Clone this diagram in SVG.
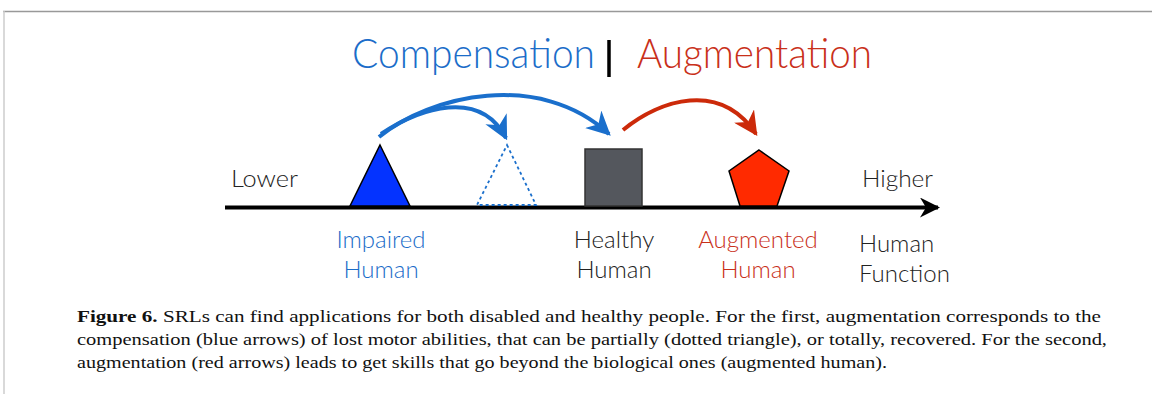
<svg xmlns="http://www.w3.org/2000/svg" width="1152" height="394" viewBox="0 0 1152 394">
<style>
.sans{font-family:"Lato","Open Sans","Liberation Sans",sans-serif;font-weight:300}
.lbl{font-size:24px}
.cap{font-family:"Liberation Serif","Times New Roman",serif;font-size:17.5px;fill:#111}
.blue{fill:#1B6DC9}
.red{fill:#C9301A}
.dark{fill:#222}
.barrow{fill:none;stroke:#1A6FCC;stroke-width:4;stroke-linecap:butt}
.rarrow{fill:none;stroke:#CC2A0A;stroke-width:4}
</style>
<defs>
<marker id="hbl" viewBox="0 0 10 10" refX="9" refY="5" markerWidth="24" markerHeight="24" markerUnits="userSpaceOnUse" orient="auto">
<path d="M0,0 L10,5 L0,10 L3,5 Z" fill="#1A6FCC"/>
</marker>
<marker id="hr" viewBox="0 0 10 10" refX="9" refY="5" markerWidth="24" markerHeight="24" markerUnits="userSpaceOnUse" orient="auto">
<path d="M0,0 L10,5 L0,10 L3,5 Z" fill="#CC2A0A"/>
</marker>
<marker id="hk" viewBox="0 0 10 10" refX="9" refY="5" markerWidth="20" markerHeight="20" markerUnits="userSpaceOnUse" orient="auto">
<path d="M0,0 L10,5 L0,10 L3,5 Z" fill="#000"/>
</marker>
</defs>
<rect width="1152" height="394" fill="#fff"/>
<line x1="3" y1="11.5" x2="1152" y2="11.5" stroke="#999" stroke-width="1.5"/>
<line x1="4" y1="11" x2="4" y2="394" stroke="#ccc" stroke-width="1.5"/>

<g id="title">
<text class="sans blue" x="352" y="68" font-size="42" textLength="243" lengthAdjust="spacingAndGlyphs">Compensation</text>
<line x1="609" y1="40" x2="609" y2="77" stroke="#000" stroke-width="3.5"/>
<text class="sans red" x="637" y="68" font-size="42" textLength="235" lengthAdjust="spacingAndGlyphs">Augmentation</text>
</g>

<g id="axis">
<line x1="225" y1="207.5" x2="938" y2="207.5" stroke="#000" stroke-width="4" marker-end="url(#hk)"/>
<text class="sans dark lbl" x="231" y="187" textLength="67" lengthAdjust="spacingAndGlyphs">Lower</text>
<text class="sans dark lbl" x="862" y="187" textLength="71" lengthAdjust="spacingAndGlyphs">Higher</text>
<text class="sans dark lbl" x="859" y="252">Human</text>
<text class="sans dark lbl" x="859" y="282">Function</text>
</g>

<g id="impaired">
<polygon points="380,145 410,206 350,206" fill="#0433FF" stroke="#000" stroke-width="1.5"/>
<text class="sans blue lbl" x="381" y="248" text-anchor="middle">Impaired</text>
<text class="sans blue lbl" x="381" y="278" text-anchor="middle">Human</text>
</g>

<g id="partial">
<polygon points="507,145 536,205 477,205" fill="none" stroke="#1A6FCC" stroke-width="1.8" stroke-dasharray="3,3"/>
</g>

<g id="healthy">
<rect x="585" y="149" width="57" height="57" fill="#54575D" stroke="#333" stroke-width="1.5"/>
<text class="sans dark lbl" x="614" y="248" text-anchor="middle">Healthy</text>
<text class="sans dark lbl" x="614" y="278" text-anchor="middle">Human</text>
</g>

<g id="augmented">
<polygon points="759,150 789,171 777,206 740,206 729,171" fill="#FF2A00" stroke="#000" stroke-width="1.5"/>
<text class="sans red lbl" x="758" y="248" text-anchor="middle">Augmented</text>
<text class="sans red lbl" x="758" y="278" text-anchor="middle">Human</text>
</g>

<g id="connectors">
<path class="barrow" d="M379,137 C430,95 540,70 609,134" marker-end="url(#hbl)"/>
<path class="barrow" d="M381,134 C420,108 480,88 506,138" marker-end="url(#hbl)"/>
<path class="rarrow" d="M623,130 C660,100 720,80 756,134" marker-end="url(#hr)"/>
</g>

<g id="caption">
<text class="cap" x="77" y="322" textLength="1024" lengthAdjust="spacingAndGlyphs"><tspan font-weight="bold">Figure 6.</tspan> SRLs can find applications for both disabled and healthy people. For the first, augmentation corresponds to the</text>
<text class="cap" x="77" y="345" textLength="1030" lengthAdjust="spacingAndGlyphs">compensation (blue arrows) of lost motor abilities, that can be partially (dotted triangle), or totally, recovered. For the second,</text>
<text class="cap" x="77" y="368" textLength="810" lengthAdjust="spacingAndGlyphs">augmentation (red arrows) leads to get skills that go beyond the biological ones (augmented human).</text>
</g>
</svg>
